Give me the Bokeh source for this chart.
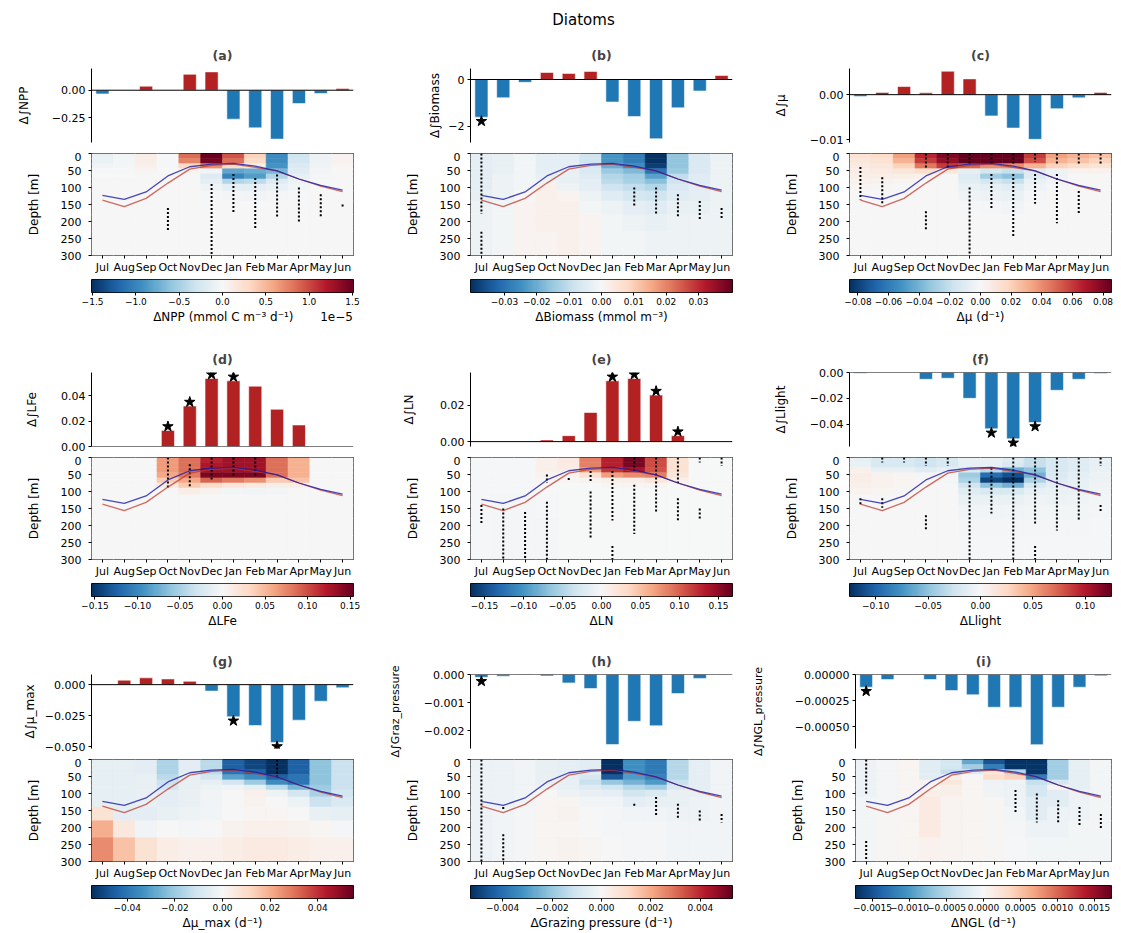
import numpy as np
from bokeh.plotting import figure
from bokeh.layouts import column, row
from bokeh.models import (Range1d, FixedTicker, Span, LinearColorMapper, ColumnDataSource,
                          CustomJSTickFormatter)
from bokeh.transform import linear_cmap
from bokeh.core.properties import value
from bokeh.embed import file_html
from bokeh.resources import INLINE

# ---------------- data ----------------
MONTHS = ["Jul", "Aug", "Sep", "Oct", "Nov", "Dec", "Jan", "Feb", "Mar", "Apr", "May", "Jun"]
DEPTH_EDGES = [0, 15, 30, 45, 60, 75, 90, 110, 140, 180, 230, 300]
MLD_BLUE = [123, 135, 113, 66, 39, 31, 29, 37, 51, 75, 94, 108]
MLD_RED = [137, 156, 132, 87, 46, 35, 31, 41, 51, 75, 96, 112]

BAR_A = [-0.034, 0.0, 0.037, 0.0, 0.146, 0.168, -0.265, -0.345, -0.448, -0.122, -0.030, 0.015]
BAR_B = [-1.61, -0.78, -0.12, 0.30, 0.26, 0.345, -0.96, -1.58, -2.53, -1.21, -0.49, 0.17]
BAR_C = [-0.0004, 0.0005, 0.0018, 0.0004, 0.0052, 0.0035, -0.0047, -0.0074, -0.0099, -0.0031, -0.0007, 0.0005]
BAR_D = [0.0, 0.0, 0.0, 0.0127, 0.032, 0.0538, 0.0519, 0.0477, 0.0294, 0.017, 0.0, 0.0]
BAR_E = [0.0, 0.0, 0.0, 0.0009, 0.0033, 0.0161, 0.0336, 0.0349, 0.0257, 0.0033, 0.0, 0.0]
BAR_F = [-0.0005, 0.0, 0.0, -0.0052, -0.0044, -0.0199, -0.0434, -0.0511, -0.0385, -0.0137, -0.0052, -0.0008]
BAR_G = [0.0, 0.0036, 0.0055, 0.0046, 0.0027, -0.0052, -0.026, -0.033, -0.0467, -0.0287, -0.0134, -0.0025]
BAR_H = [-0.0001, -0.00006, -0.00001, -0.00005, -0.0003, -0.0005, -0.0025, -0.00167, -0.00183, -0.00068, -0.00014, 0.0]
BAR_I = [-0.000122, -0.000048, 0.0, -0.000048, -0.000154, -0.000195, -0.000314, -0.000314, -0.000673, -0.000314, -0.000122, -0.000013]

STAR_A = []
STAR_B = ["Jul"]
STAR_C = []
STAR_D = ["Oct", "Nov", "Dec", "Jan"]
STAR_E = ["Jan", "Feb", "Mar", "Apr"]
STAR_F = ["Jan", "Feb", "Mar"]
STAR_G = ["Jan", "Mar"]
STAR_H = ["Jul"]
STAR_I = ["Jul"]

# heat maps: rows = depth bands (DEPTH_EDGES), columns = months Jul..Jun
HEAT_A = [  # units of 1e-5 mmol C m-3 d-1
    [-0.10, -0.04, 0.10, -0.02, 0.85, 1.50, 0.95, 0.35, -0.95, -0.30, -0.08, 0.05],
    [-0.10, -0.04, 0.10, -0.02, 0.75, 1.45, 0.85, 0.30, -0.95, -0.28, -0.08, 0.05],
    [-0.05, -0.03, 0.08, -0.02, 0.30, 0.70, 0.30, 0.10, -0.90, -0.22, -0.06, 0.03],
    [-0.02, -0.02, 0.03, -0.01, 0.05, -0.05, -0.80, -0.75, -0.70, -0.18, -0.04, 0.01],
    [-0.01, -0.01, 0.00, 0.00, 0.00, -0.20, -1.00, -0.85, -0.45, -0.12, -0.03, 0.00],
    [0.00, 0.00, 0.00, 0.00, 0.00, -0.15, -0.45, -0.40, -0.20, -0.08, -0.02, 0.00],
    [0.00, 0.00, 0.00, 0.00, 0.00, -0.06, -0.15, -0.15, -0.10, -0.04, -0.01, 0.00],
    [0.00, 0.00, 0.00, 0.00, 0.00, -0.02, -0.04, -0.05, -0.03, -0.02, 0.00, 0.00],
    [0.00] * 12,
    [0.00] * 12,
    [0.00] * 12,
]
HEAT_B = [
    [-0.004, -0.003, -0.001, -0.004, -0.004, -0.008, -0.024, -0.028, -0.040, -0.016, -0.006, -0.002],
    [-0.004, -0.003, -0.001, -0.004, -0.004, -0.008, -0.024, -0.028, -0.040, -0.016, -0.006, -0.002],
    [-0.004, -0.003, -0.001, -0.004, -0.004, -0.007, -0.020, -0.025, -0.038, -0.016, -0.006, -0.002],
    [-0.004, -0.003, -0.001, -0.004, -0.003, -0.006, -0.015, -0.018, -0.030, -0.015, -0.006, -0.002],
    [-0.004, -0.002, -0.001, -0.003, -0.003, -0.005, -0.012, -0.014, -0.022, -0.010, -0.005, -0.002],
    [-0.004, -0.002, -0.001, -0.002, -0.003, -0.004, -0.011, -0.013, -0.017, -0.008, -0.005, -0.002],
    [-0.004, -0.002, -0.001, 0.002, -0.002, -0.004, -0.008, -0.010, -0.012, -0.006, -0.004, -0.002],
    [-0.003, -0.002, 0.000, 0.002, 0.001, -0.002, -0.005, -0.007, -0.008, -0.005, -0.004, -0.002],
    [-0.002, -0.001, 0.001, 0.002, 0.002, -0.001, -0.002, -0.004, -0.005, -0.003, -0.003, -0.002],
    [-0.002, -0.001, 0.001, 0.002, 0.002, 0.001, -0.001, -0.002, -0.003, -0.002, -0.002, -0.002],
    [-0.002, -0.001, 0.001, 0.001, 0.002, 0.001, -0.001, -0.001, -0.002, -0.002, -0.002, -0.002],
]
HEAT_C = [
    [0.013, 0.015, 0.035, 0.065, 0.080, 0.085, 0.085, 0.085, 0.060, 0.035, 0.030, 0.025],
    [0.010, 0.013, 0.030, 0.060, 0.075, 0.085, 0.085, 0.085, 0.055, 0.030, 0.025, 0.020],
    [0.008, 0.010, 0.020, 0.045, 0.060, 0.050, 0.040, 0.040, 0.030, 0.020, 0.015, 0.012],
    [0.006, 0.008, 0.010, 0.015, 0.010, -0.008, -0.015, -0.020, -0.012, -0.005, 0.004, 0.004],
    [0.005, 0.005, 0.005, 0.004, 0.000, -0.012, -0.030, -0.035, -0.012, -0.005, 0.000, 0.000],
    [0.004, 0.003, 0.002, 0.000, 0.000, -0.010, -0.015, -0.020, -0.006, -0.003, 0.000, 0.000],
    [0.002, 0.001, 0.000, 0.000, 0.000, -0.006, -0.008, -0.010, -0.004, -0.002, 0.000, 0.000],
    [0.000, 0.000, 0.000, 0.000, 0.000, -0.004, -0.005, -0.006, -0.002, 0.000, 0.000, 0.000],
    [0.000, 0.000, 0.000, 0.000, 0.000, -0.001, -0.002, -0.003, 0.000, 0.000, 0.000, 0.000],
    [0.000] * 12,
    [0.000] * 12,
]
HEAT_D = [
    [0.0, 0.0, 0.0, 0.065, 0.085, 0.120, 0.130, 0.130, 0.085, 0.055, 0.0, 0.0],
    [0.0, 0.0, 0.0, 0.065, 0.085, 0.125, 0.130, 0.130, 0.085, 0.055, 0.0, 0.0],
    [0.0, 0.0, 0.0, 0.065, 0.085, 0.130, 0.130, 0.130, 0.085, 0.055, 0.0, 0.0],
    [0.0, 0.0, 0.0, 0.060, 0.080, 0.145, 0.145, 0.145, 0.085, 0.055, 0.0, 0.0],
    [0.0, 0.0, 0.0, 0.040, 0.060, 0.090, 0.080, 0.070, 0.040, 0.045, 0.0, 0.0],
    [0.0, 0.0, 0.0, 0.015, 0.040, 0.030, 0.020, 0.015, 0.010, 0.010, 0.0, 0.0],
    [0.0, 0.0, 0.0, 0.000, 0.010, 0.005, -0.004, -0.005, -0.004, 0.000, 0.0, 0.0],
    [0.0] * 12,
    [0.0] * 12,
    [0.0] * 12,
    [0.0] * 12,
]
HEAT_E = [
    [-0.002, -0.002, -0.002, 0.008, 0.015, 0.085, 0.130, 0.160, 0.110, 0.025, 0.0, 0.0],
    [-0.002, -0.002, -0.002, 0.008, 0.015, 0.085, 0.130, 0.160, 0.110, 0.025, 0.0, 0.0],
    [-0.002, -0.002, -0.002, 0.008, 0.012, 0.070, 0.120, 0.140, 0.105, 0.025, 0.0, 0.0],
    [-0.002, -0.002, -0.002, 0.005, 0.005, 0.025, 0.070, 0.080, 0.085, 0.020, 0.0, 0.0],
    [-0.002, -0.002, -0.002, 0.002, 0.002, 0.005, 0.010, 0.010, 0.020, 0.008, 0.0, 0.0],
    [-0.002, -0.002, -0.002, 0.000, 0.000, 0.000, 0.003, 0.003, 0.003, 0.000, 0.0, 0.0],
    [-0.002, -0.002, -0.002, -0.001, 0.000, 0.000, 0.000, 0.000, 0.000, 0.000, 0.0, 0.0],
    [-0.002, -0.003, -0.003, -0.002, 0.000, 0.000, 0.000, 0.000, 0.000, 0.000, 0.0, 0.0],
    [-0.002, -0.003, -0.003, -0.002, -0.001, 0.000, 0.000, 0.000, 0.000, 0.000, 0.0, 0.0],
    [-0.002, -0.003, -0.003, -0.003, -0.001, 0.000, 0.000, 0.000, 0.000, 0.000, 0.0, 0.0],
    [-0.002, -0.003, -0.003, -0.003, -0.001, 0.000, 0.000, 0.000, 0.000, 0.000, 0.0, 0.0],
]
HEAT_F = [
    [-0.010, -0.020, -0.020, -0.025, -0.020, -0.008, -0.008, -0.015, -0.030, -0.020, -0.015, -0.010],
    [-0.008, -0.020, -0.020, -0.025, -0.020, -0.010, -0.010, -0.020, -0.030, -0.020, -0.015, -0.010],
    [0.006, -0.010, -0.010, -0.015, -0.010, -0.020, -0.035, -0.060, -0.050, -0.020, -0.015, -0.008],
    [0.008, 0.005, 0.002, -0.002, -0.003, -0.045, -0.095, -0.110, -0.060, -0.018, -0.012, -0.006],
    [0.008, 0.005, 0.002, 0.000, -0.002, -0.040, -0.115, -0.125, -0.040, -0.015, -0.010, -0.006],
    [0.006, 0.004, 0.002, 0.000, -0.001, -0.025, -0.050, -0.060, -0.020, -0.012, -0.010, -0.005],
    [0.003, 0.002, 0.001, 0.000, 0.000, -0.015, -0.020, -0.020, -0.010, -0.008, -0.008, -0.004],
    [0.000, 0.000, 0.000, 0.000, 0.000, -0.008, -0.008, -0.008, -0.005, -0.006, -0.005, -0.003],
    [0.000, 0.000, 0.000, 0.000, 0.000, -0.004, -0.004, -0.004, -0.003, -0.003, -0.003, -0.002],
    [0.000, 0.000, 0.000, 0.000, 0.000, -0.002, -0.002, -0.002, -0.002, -0.002, -0.002, -0.001],
    [0.000, 0.000, 0.000, 0.000, 0.000, -0.001, -0.001, -0.001, -0.001, -0.001, -0.001, -0.001],
]
HEAT_G = [
    [-0.005, -0.005, -0.006, -0.017, -0.006, -0.015, -0.045, -0.050, -0.055, -0.045, -0.022, -0.012],
    [-0.005, -0.005, -0.006, -0.017, -0.006, -0.015, -0.045, -0.050, -0.055, -0.045, -0.022, -0.012],
    [-0.005, -0.005, -0.006, -0.017, -0.006, -0.015, -0.040, -0.045, -0.055, -0.045, -0.022, -0.012],
    [-0.005, -0.005, -0.004, -0.015, -0.005, -0.010, -0.030, -0.035, -0.045, -0.040, -0.022, -0.012],
    [-0.005, -0.005, -0.004, -0.012, -0.004, -0.005, -0.010, -0.020, -0.035, -0.040, -0.022, -0.012],
    [-0.005, -0.005, -0.004, -0.010, -0.004, -0.003, -0.002, -0.005, -0.015, -0.025, -0.020, -0.012],
    [-0.005, -0.005, -0.004, -0.006, -0.004, -0.002, 0.000, 0.003, -0.003, -0.010, -0.018, -0.010],
    [-0.005, -0.005, -0.004, -0.006, -0.004, -0.002, 0.000, 0.002, 0.000, -0.003, -0.012, -0.008],
    [0.008, -0.006, -0.006, -0.004, -0.003, -0.002, 0.000, 0.001, 0.001, 0.000, -0.004, -0.005],
    [0.020, 0.006, -0.002, 0.000, -0.001, 0.000, 0.002, 0.003, 0.003, 0.002, 0.001, -0.001],
    [0.026, 0.016, 0.008, 0.004, 0.003, 0.003, 0.004, 0.005, 0.005, 0.004, 0.003, 0.003],
]
HEAT_H = [
    [-0.0003, -0.0003, -0.0002, -0.0004, -0.0005, -0.0006, -0.0053, -0.0033, -0.0038, -0.0015, -0.0005, -0.0002],
    [-0.0003, -0.0003, -0.0002, -0.0004, -0.0005, -0.0006, -0.0053, -0.0033, -0.0038, -0.0015, -0.0005, -0.0002],
    [-0.0003, -0.0003, -0.0002, -0.0004, -0.0005, -0.0006, -0.0053, -0.0033, -0.0038, -0.0015, -0.0005, -0.0002],
    [-0.0003, -0.0003, -0.0002, -0.0004, -0.0005, -0.0009, -0.0045, -0.0030, -0.0036, -0.0015, -0.0005, -0.0002],
    [-0.0003, -0.0003, -0.0002, -0.0004, -0.0004, -0.0012, -0.0020, -0.0025, -0.0030, -0.0012, -0.0005, -0.0002],
    [-0.0003, -0.0003, -0.0002, -0.0003, -0.0004, -0.0007, -0.0010, -0.0015, -0.0018, -0.0008, -0.0005, -0.0002],
    [-0.0003, -0.0003, -0.0002, 0.0000, -0.0003, -0.0004, -0.0005, -0.0010, -0.0008, -0.0004, -0.0004, -0.0002],
    [-0.0003, -0.0003, -0.0002, 0.0001, 0.0001, -0.0002, -0.0002, -0.0005, -0.0004, -0.0004, -0.0003, -0.0002],
    [-0.0003, -0.0002, -0.0001, 0.0001, 0.0002, 0.0000, -0.0001, -0.0002, -0.0002, -0.0003, -0.0003, -0.0002],
    [-0.0003, -0.0002, -0.0001, 0.0001, 0.0001, 0.0000, -0.0001, -0.0001, -0.0001, -0.0002, -0.0002, -0.0002],
    [-0.0003, -0.0002, -0.0001, 0.0001, 0.0002, 0.0001, 0.0000, -0.0001, -0.0001, -0.0002, -0.0002, -0.0002],
]
HEAT_I = [
    [-0.0001, -0.00003, 0.00003, -0.0002, -0.0003, -0.0009, -0.0015, -0.0017, -0.0017, -0.0006, -0.00015, -0.00005],
    [-0.0001, -0.00003, 0.00003, -0.0002, -0.0003, -0.0006, -0.0012, -0.0017, -0.0017, -0.0006, -0.00015, -0.00005],
    [-0.0001, -0.00003, 0.00003, -0.0002, -0.0004, -0.0002, 0.0002, -0.0005, -0.0017, -0.0006, -0.00015, -0.00005],
    [-0.0001, -0.00003, 0.00003, -0.0002, 0.0001, 0.0000, 0.0003, 0.0004, -0.0012, -0.0006, -0.00015, -0.00005],
    [-0.0001, -0.00003, 0.00003, 0.00005, 0.0002, 0.00003, -0.0001, -0.0001, -0.0004, -0.0003, -0.00015, -0.00005],
    [-0.0001, -0.00003, 0.00003, 0.00005, 0.0001, 0.00003, -0.00008, -0.0001, -0.0003, 0.00005, -0.00015, -0.00005],
    [-0.0001, -0.00003, 0.00003, 0.0001, 0.0001, 0.00003, -0.00008, -0.0001, -0.0003, -0.0002, -0.0001, -0.00005],
    [-0.00005, -0.00003, 0.00003, 0.00015, 0.00005, 0.00003, 0.00002, -0.0001, -0.0002, -0.0002, -0.0001, -0.00005],
    [-0.00005, 0.00002, 0.00003, 0.00015, 0.00005, 0.00003, 0.00002, -0.00005, -0.0002, -0.0001, -0.0001, -0.00005],
    [-0.00005, 0.00002, 0.00003, 0.00015, 0.00005, 0.00003, 0.00002, -0.00003, -0.0001, -0.0001, -0.00005, -0.00005],
    [-0.00005, 0.00002, 0.00003, 0.00008, 0.00005, 0.00003, 0.00002, -0.00002, -0.00005, -0.00005, -0.00005, -0.00005],
]

# significance stippling: (month, top depth, bottom depth)
DOTS_A = [("Oct", 160, 225), ("Dec", 90, 300), ("Jan", 60, 178), ("Feb", 72, 225), ("Mar", 62, 185),
          ("Apr", 100, 205), ("May", 120, 185), ("Jun", 150, 157)]
DOTS_B = [("Jul", 0, 178), ("Jul", 230, 300), ("Feb", 100, 155), ("Mar", 100, 178), ("Apr", 120, 185),
          ("May", 140, 195), ("Jun", 160, 195)]
DOTS_C = [("Jul", 40, 135), ("Aug", 70, 148), ("Oct", 0, 45), ("Oct", 170, 225), ("Nov", 0, 45),
          ("Dec", 0, 35), ("Dec", 100, 300), ("Jan", 0, 35), ("Jan", 60, 165), ("Feb", 0, 35),
          ("Feb", 60, 245), ("Mar", 0, 25), ("Mar", 60, 148), ("Apr", 0, 35), ("Apr", 60, 205),
          ("May", 0, 35), ("May", 110, 178), ("Jun", 0, 35)]
DOTS_D = [("Oct", 0, 88), ("Nov", 20, 88), ("Dec", 0, 65), ("Jan", 0, 55), ("Feb", 0, 55)]
DOTS_E = [("Jul", 140, 195), ("Aug", 150, 300), ("Sep", 160, 300), ("Oct", 50, 75), ("Oct", 130, 300),
          ("Nov", 60, 66), ("Dec", 40, 75), ("Dec", 100, 235), ("Jan", 40, 185), ("Jan", 260, 300),
          ("Feb", 0, 45), ("Feb", 80, 225), ("Mar", 0, 165), ("Apr", 0, 75), ("Apr", 120, 185),
          ("May", 0, 15), ("May", 150, 185), ("Jun", 0, 25)]
DOTS_F = [("Jul", 120, 140), ("Aug", 0, 15), ("Aug", 120, 148), ("Sep", 0, 15), ("Oct", 0, 25),
          ("Oct", 170, 215), ("Nov", 0, 25), ("Dec", 70, 300), ("Jan", 30, 165), ("Feb", 0, 300),
          ("Mar", 0, 195), ("Mar", 260, 300), ("Apr", 0, 215), ("May", 0, 185), ("Jun", 0, 25),
          ("Jun", 140, 157)]
DOTS_G = [("Mar", 0, 55)]
DOTS_H = [("Jul", 0, 300), ("Aug", 140, 146), ("Aug", 220, 300), ("Feb", 130, 136), ("Mar", 110, 165),
          ("Apr", 130, 175), ("May", 150, 185), ("Jun", 160, 185)]
DOTS_I = [("Jul", 0, 105), ("Jul", 240, 300), ("Feb", 90, 155), ("Mar", 100, 185), ("Apr", 120, 185),
          ("May", 140, 195), ("Jun", 160, 205)]

TAGS = ["(a)", "(b)", "(c)", "(d)", "(e)", "(f)", "(g)", "(h)", "(i)"]
BAR_YLABELS = ["Δ∫NPP", "Δ∫Biomass", "Δ∫μ", "Δ∫LFe", "Δ∫LN", "Δ∫Llight", "Δ∫μ_max",
               "Δ∫Graz_pressure", "Δ∫NGL_pressure"]
BAR_YTICKS = [[0, -0.25], [0, -2], [0, -0.01], [0, 0.02, 0.04], [0, 0.02], [0, -0.02, -0.04],
              [0, -0.025, -0.05], [0, -0.001, -0.002], [0, -0.00025, -0.0005]]
BAR_YDEC = [2, 0, 2, 2, 2, 2, 3, 3, 5]
BAR_YLIM = [(-0.479, 0.199), (-2.69, 0.47), (-0.0106, 0.0058), (0.0, 0.0585), (-0.0027, 0.0382),
            (-0.057, 0.0), (-0.0516, 0.0082), (-0.00264, 0.0), (-0.00071, 0.0)]
CB_VMAX = [1.512, 0.0405, 0.0855, 0.154, 0.168, 0.125, 0.055, 0.0053, 0.00173]
CB_TICKS = [[-1.5, -1.0, -0.5, 0.0, 0.5, 1.0, 1.5],
            [-0.03, -0.02, -0.01, 0.0, 0.01, 0.02, 0.03],
            [-0.08, -0.06, -0.04, -0.02, 0.0, 0.02, 0.04, 0.06, 0.08],
            [-0.15, -0.10, -0.05, 0.0, 0.05, 0.10, 0.15],
            [-0.15, -0.10, -0.05, 0.0, 0.05, 0.10, 0.15],
            [-0.10, -0.05, 0.0, 0.05, 0.10],
            [-0.04, -0.02, 0.0, 0.02, 0.04],
            [-0.004, -0.002, 0.0, 0.002, 0.004],
            [-0.0015, -0.0010, -0.0005, 0.0, 0.0005, 0.0010, 0.0015]]
CB_DEC = [1, 2, 2, 2, 2, 2, 2, 3, 4]
CB_LABELS = ["ΔNPP (mmol C m⁻³ d⁻¹)", "ΔBiomass (mmol m⁻³)", "Δμ (d⁻¹)", "ΔLFe", "ΔLN", "ΔLlight",
             "Δμ_max (d⁻¹)", "ΔGrazing pressure (d⁻¹)", "ΔNGL (d⁻¹)"]
CB_OFFSET_TEXT = ["1e−5", "", "", "", "", "", "", "", ""]

BARS = [BAR_A, BAR_B, BAR_C, BAR_D, BAR_E, BAR_F, BAR_G, BAR_H, BAR_I]
STARS = [STAR_A, STAR_B, STAR_C, STAR_D, STAR_E, STAR_F, STAR_G, STAR_H, STAR_I]
HEATS = [HEAT_A, HEAT_B, HEAT_C, HEAT_D, HEAT_E, HEAT_F, HEAT_G, HEAT_H, HEAT_I]
DOTS = [DOTS_A, DOTS_B, DOTS_C, DOTS_D, DOTS_E, DOTS_F, DOTS_G, DOTS_H, DOTS_I]

# ---------------- style / layout ----------------
FONT = "DejaVu Sans"
RDBU_R = ['#053061', '#2166ac', '#4393c3', '#92c5de', '#d1e5f0', '#f7f7f7',
          '#fddbc7', '#f4a582', '#d6604d', '#b2182b', '#67001f']


def interp_palette(anchors, n):
    rgb = np.array([[int(a[k:k + 2], 16) for k in (1, 3, 5)] for a in anchors], float)
    xs = np.linspace(0, 1, len(anchors))
    t = np.linspace(0, 1, n)
    out = np.stack([np.interp(t, xs, rgb[:, k]) for k in range(3)], 1)
    return ['#%02x%02x%02x' % tuple(int(round(v)) for v in c) for c in out]


PALETTE = interp_palette(RDBU_R, 256)
COLW = [378, 370, 373]
FRAME_L = [77, 78, 85]
FRAME_W = [291, 291, 288]
CB_L = [91, 92, 101]
CB_W = 262
BAR_TOP = 28
BAR_H = 74
BAR_BOTTOM = 10
HEAT_TOP = 1
HEAT_H = 104
CB_BOTTOM = [52, 50, 35]
BAR_LABEL_STANDOFF = [18, 3, 19, 19, 21, 19, 5, 19, 27]
NBSP = "\u00a0"
MIDX = {m: i for i, m in enumerate(MONTHS)}


def tick_fmt(dec):
    return CustomJSTickFormatter(args=dict(d=dec), code="""
        const s = Math.abs(tick).toFixed(d);
        return (tick < -1e-15 ? '\u2212' : '') + s;
    """)


def style_axis(ax, tick_size="11px", label_size="12px"):
    ax.axis_label_text_font = FONT
    ax.major_label_text_font = FONT
    ax.axis_label_text_font_style = "normal"
    ax.axis_label_text_font_size = label_size
    ax.major_label_text_font_size = tick_size
    ax.axis_label_text_color = "black"
    ax.major_label_text_color = "black"
    ax.major_tick_in = 0
    ax.major_tick_out = 3
    ax.minor_tick_line_color = None
    ax.major_tick_line_color = "black"
    ax.axis_line_color = "black"
    ax.major_label_standoff = 3
    ax.axis_label_standoff = 3


def make_bar(k, col):
    vals = BARS[k]
    ylo, yhi = BAR_YLIM[k]
    p = figure(width=COLW[col], height=BAR_TOP + BAR_H + BAR_BOTTOM,
               x_range=Range1d(-0.5, 11.5), y_range=Range1d(ylo, yhi),
               x_axis_location=None, output_backend="svg", toolbar_location=None,
               min_border_left=FRAME_L[col], min_border_right=COLW[col] - FRAME_L[col] - FRAME_W[col],
               min_border_top=BAR_TOP, min_border_bottom=BAR_BOTTOM, outline_line_color=None)
    p.grid.visible = False
    p.title.text = TAGS[k]
    p.title.align = "center"
    p.title.vertical_align = "middle"
    p.title.text_font = FONT
    p.title.text_font_size = "12.5px"
    p.title.text_font_style = "bold"
    colors = ["#b22222" if v > 0 else "#1f77b4" for v in vals]
    src = ColumnDataSource(dict(x=list(range(12)), top=vals, color=colors))
    p.vbar(x="x", top="top", bottom=0, width=0.6, fill_color="color", line_color="white",
           line_alpha=0.7, line_width=0.8, source=src)
    p.add_layout(Span(location=0, dimension="width", line_color="black", line_width=1))
    off = 4.0 / BAR_H * (yhi - ylo)
    sx = [MIDX[m] for m in STARS[k]]
    sy = [vals[MIDX[m]] + (off if vals[MIDX[m]] > 0 else -off) for m in STARS[k]]
    if sx:
        p.scatter(sx, sy, marker="star", size=11, color="black")
    ax = p.yaxis[0]
    lab = BAR_YLABELS[k]
    style_axis(ax, tick_size="11px", label_size="11px" if len(lab) > 10 else "12px")
    ax.ticker = FixedTicker(ticks=BAR_YTICKS[k])
    ax.formatter = tick_fmt(BAR_YDEC[k])
    ax.axis_label = lab
    ax.axis_label_standoff = BAR_LABEL_STANDOFF[k]
    return p


def make_heat(k, col):
    vmax = CB_VMAX[k]
    p = figure(width=COLW[col], height=HEAT_TOP + HEAT_H + 19,
               x_range=Range1d(-0.5, 11.5), y_range=Range1d(300, 0),
               output_backend="svg", toolbar_location=None,
               min_border_left=FRAME_L[col], min_border_right=COLW[col] - FRAME_L[col] - FRAME_W[col],
               min_border_top=HEAT_TOP, min_border_bottom=19,
               outline_line_color="black", outline_line_width=1, outline_line_alpha=1)
    p.grid.visible = False
    L, R, T, B, V = [], [], [], [], []
    heat = HEATS[k]
    for j in range(len(DEPTH_EDGES) - 1):
        for i in range(12):
            L.append(i - 0.5); R.append(i + 0.5)
            T.append(DEPTH_EDGES[j]); B.append(DEPTH_EDGES[j + 1])
            V.append(heat[j][i])
    src = ColumnDataSource(dict(left=L, right=R, top=T, bottom=B, val=V))
    cmap = linear_cmap("val", PALETTE, -vmax, vmax)
    p.quad(left="left", right="right", top="top", bottom="bottom", source=src,
           fill_color=cmap, line_color=cmap, line_width=0.6)
    dots = DOTS[k]
    p.segment(x0=[MIDX[d[0]] for d in dots], y0=[d[1] for d in dots],
              x1=[MIDX[d[0]] for d in dots], y1=[d[2] for d in dots],
              line_color="black", line_width=2, line_dash="2 2")
    p.line(list(range(12)), MLD_RED, line_color="#c0392b", line_width=1.3, line_alpha=0.75)
    p.line(list(range(12)), MLD_BLUE, line_color="#1a1aaa", line_width=1.3, line_alpha=0.8)
    xa = p.xaxis[0]
    style_axis(xa, tick_size="11px")
    xa.ticker = FixedTicker(ticks=list(range(12)))
    xa.major_label_overrides = {i: m for i, m in enumerate(MONTHS)}
    xa.axis_line_color = None
    xa.major_label_standoff = 2
    ya = p.yaxis[0]
    style_axis(ya, tick_size="11px")
    ya.ticker = FixedTicker(ticks=[0, 50, 100, 150, 200, 250, 300])
    ya.axis_label = "Depth [m]"
    ya.axis_line_color = None
    ya.major_label_standoff = 7
    ya.axis_label_standoff = 17
    return p


def make_cbar(k, col, r):
    vmax = CB_VMAX[k]
    p = figure(width=COLW[col], height=3 + 13 + CB_BOTTOM[r],
               x_range=Range1d(-vmax, vmax), y_range=Range1d(0, 1),
               y_axis_location=None, output_backend="svg", toolbar_location=None,
               min_border_left=CB_L[col], min_border_right=COLW[col] - CB_L[col] - CB_W,
               min_border_top=3, min_border_bottom=CB_BOTTOM[r],
               outline_line_color="black", outline_line_width=1, outline_line_alpha=1)
    p.grid.visible = False
    mapper = LinearColorMapper(palette=PALETTE, low=-vmax, high=vmax)
    ramp = np.linspace(-vmax, vmax, 256).reshape(1, -1)
    p.image(image=[ramp], x=-vmax, y=0, dw=2 * vmax, dh=1, color_mapper=mapper)
    xa = p.xaxis[0]
    style_axis(xa, tick_size="9px", label_size="12px")
    xa.ticker = FixedTicker(ticks=CB_TICKS[k])
    xa.formatter = tick_fmt(CB_DEC[k])
    xa.axis_line_color = None
    xa.major_label_standoff = 2
    xa.axis_label_standoff = 2
    label = CB_LABELS[k]
    if CB_OFFSET_TEXT[k]:
        # offset text ("1e−5") sits at the right end of the label line, as matplotlib draws it
        label = NBSP * 16 + label + NBSP * 7 + CB_OFFSET_TEXT[k]
    xa.axis_label = label
    return p


header = figure(width=1121, height=40, x_range=Range1d(0, 1121), y_range=Range1d(0, 40),
                x_axis_location=None, y_axis_location=None, output_backend="svg",
                toolbar_location=None, min_border=0, outline_line_color=None)
header.grid.visible = False
header.text(x=[583], y=[21], text=["Diatoms"], text_align="center", text_baseline="middle",
            text_font=value(FONT), text_font_size="15px", text_color="black")

rows = [header]
for r in range(3):
    cols = []
    for c in range(3):
        k = r * 3 + c
        cols.append(column(make_bar(k, c), make_heat(k, c), make_cbar(k, c, r), spacing=0))
    rows.append(row(*cols, spacing=0))

layout = column(*rows, spacing=0)
open("out.html", "w").write(file_html(layout, INLINE))
